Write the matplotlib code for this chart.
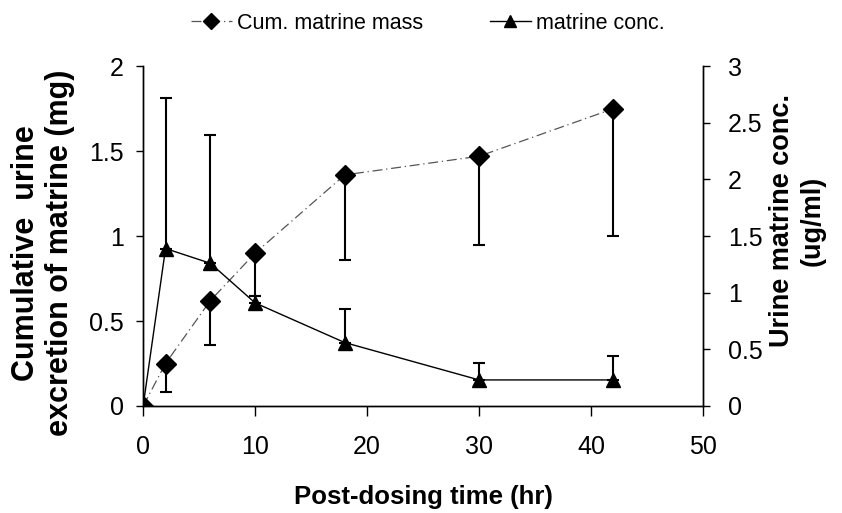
import numpy as np
import matplotlib.pyplot as plt

plt.rcParams['font.family'] = ['Liberation Sans', 'DejaVu Sans']

# data
time_hr = [0, 2, 6, 10, 18, 30, 42]
cum_mass = [0, 0.25, 0.62, 0.90, 1.36, 1.47, 1.75]       # mg
mass_err_low = [0, 0.17, 0.26, 0.25, 0.50, 0.52, 0.75]  # one-sided, downward
conc = [0, 1.39, 1.26, 0.91, 0.56, 0.23, 0.23]          # ug/ml
conc_err_up = [0, 1.33, 1.13, 0.06, 0.30, 0.15, 0.21]   # one-sided, upward

fig = plt.figure(figsize=(8.42, 5.13), dpi=100)
ax = fig.add_axes([0.170, 0.2086, 0.665, 0.6624])
ax2 = ax.twinx()

# mass series, lower error only
ax.errorbar(time_hr, cum_mass, yerr=[mass_err_low, np.zeros(len(time_hr))],
            fmt='none', ecolor='black', elinewidth=1.5, capsize=4.5, capthick=1.5)
l1, = ax.plot(time_hr, cum_mass, color='#555555', lw=0.9, ls=(0, (8, 3, 1, 3)),
              marker='D', ms=10, mfc='black', mec='black', label='Cum. matrine mass')

# concentration series, upper error only
ax2.errorbar(time_hr, conc, yerr=[np.zeros(len(time_hr)), conc_err_up],
             fmt='none', ecolor='black', elinewidth=1.5, capsize=4.5, capthick=1.5)
l2, = ax2.plot(time_hr, conc, color='black', lw=1.0,
               marker='^', ms=10, mfc='black', mec='black', label='matrine conc.')

ax.set_xlim(0, 50)
ax.set_ylim(0, 2)
ax2.set_ylim(0, 3)
ax.set_xticks([0, 10, 20, 30, 40, 50])
ax.set_yticks([0, 0.5, 1, 1.5, 2])
ax.set_yticklabels(['0', '0.5', '1', '1.5', '2'])
ax2.set_yticks([0, 0.5, 1, 1.5, 2, 2.5, 3])
ax2.set_yticklabels(['0', '0.5', '1', '1.5', '2', '2.5', '3'])

for a in (ax, ax2):
    a.spines['top'].set_visible(False)
    a.tick_params(labelsize=18, length=5, width=1)
    for s in a.spines.values():
        s.set_linewidth(1.0)
ax.tick_params(axis='x', pad=14, length=7)
ax.tick_params(axis='y', pad=9)
ax2.tick_params(axis='y', pad=13)

ax.set_xlabel('Post-dosing time (hr)', fontsize=18.5, fontweight='bold')
ax.xaxis.set_label_coords(0.5, -0.232)
ax.set_ylabel('Cumulative  urine\nexcretion of matrine (mg)', fontsize=22,
              fontweight='bold')
ax.yaxis.set_label_coords(-0.121, 0.45)
ax2.set_ylabel('Urine matrine conc.\n(ug/ml)', fontsize=19.5, fontweight='bold')
ax2.yaxis.set_label_coords(1.118, 0.545)

fig.legend(handles=[l1, l2], loc='center', bbox_to_anchor=(0.508, 0.955),
           ncol=2, frameon=False, fontsize=15.5, handlelength=1.9,
           columnspacing=3.1, handletextpad=0.25, markerscale=0.85,
           borderpad=0, borderaxespad=0)

fig.savefig('out.png', dpi=100)
